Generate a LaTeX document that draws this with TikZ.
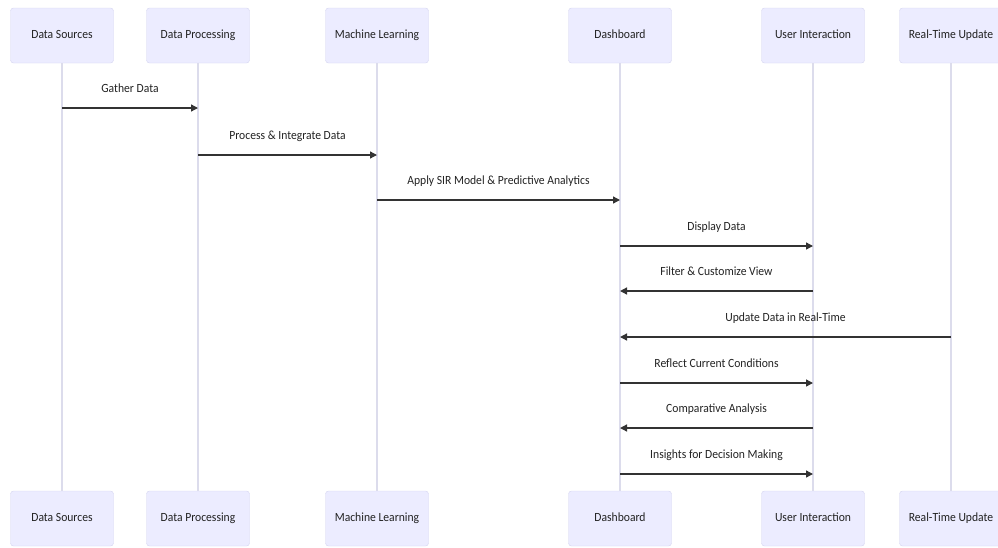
\documentclass[tikz,border=0pt]{standalone}
\usepackage{fontspec}
\setmainfont{Carlito}[FakeStretch = 0.93]
\usetikzlibrary{positioning, arrows.meta}

\definecolor{actorfill}{HTML}{ECECFF}
\definecolor{actorline}{HTML}{D4D4F0}
\definecolor{lifeline}{HTML}{DCDCEC}
\definecolor{msgline}{HTML}{333333}
\definecolor{labeltext}{HTML}{222222}

\begin{document}
\begin{tikzpicture}[
            x = 1pt, y = -1pt,
            actor/.style = {
                draw = actorline,
                fill = actorfill,
                rounded corners = 3pt,
                minimum width = 103pt,
                minimum height = 55pt,
                text height = 1.5ex,
                text depth = 0.3ex,
                text = labeltext,
                font = \fontsize{12.5}{14}\selectfont
            },
            life/.style = {
                draw = lifeline,
                line width = 1.2pt
            },
            msg/.style = {
                draw = msgline,
                line width = 1.3pt,
                -{Triangle[length = 7pt, width = 7pt]}
            },
            msglabel/.style = {
                midway,
                yshift = 18pt,
                text height = 1.5ex,
                text depth = 0.3ex,
                text = labeltext,
                font = \fontsize{12.5}{14}\selectfont
            }
        ]
            \useasboundingbox (0,0) rectangle (998,547);
            \foreach \name/\x/\txt in {
                    ds/62/Data Sources,
                    dp/198/Data Processing,
                    ml/377/Machine Learning,
                    db/620/Dashboard,
                    ui/813/User Interaction,
                    rt/951/Real-Time Update} {
                \node[actor] (\name) at (\x, 35.5) {\txt};
                \node[actor] (\name-b) at (\x, 518.5) {\txt};
                \draw[life] (\name) -- (\name-b);
            }
            \foreach \from/\to/\y/\txt in {
                    ds/dp/108/Gather Data,
                    dp/ml/155/Process \& Integrate Data,
                    ml/db/200/Apply SIR Model \& Predictive Analytics,
                    db/ui/246/Display Data,
                    ui/db/291/Filter \& Customize View,
                    rt/db/337/Update Data in Real-Time,
                    db/ui/383/Reflect Current Conditions,
                    ui/db/428/Comparative Analysis,
                    db/ui/474/Insights for Decision Making} {
                \draw[msg] (\from |- 0,\y) -- node[msglabel] {\txt} (\to |- 0,\y);
            }
        \end{tikzpicture}
\end{document}
